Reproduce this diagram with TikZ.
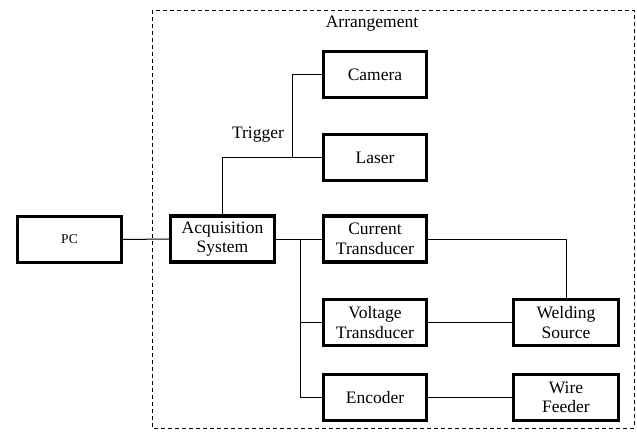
\documentclass[tikz,border=0pt]{standalone}
\usepackage{fontspec}
\setmainfont{Liberation Serif}
\begin{document}
\begin{tikzpicture}[x=1pt,y=-1pt,
  blk/.style={draw,line width=3.2pt,minimum height=46pt,inner sep=0pt,align=center,font=\fontsize{17.5}{19.5}\selectfont},
  conn/.style={line width=1pt},
  lbl/.style={font=\fontsize{17.5}{19.5}\selectfont,inner sep=0pt}]
\useasboundingbox (0,0) rectangle (637,437);
\draw[line width=1pt,dash pattern=on 4pt off 3pt] (152,10) rectangle (634,428);
\node[lbl] (arr) at (372,24) {Arrangement};
\node[blk,minimum width=104pt,font=\fontsize{13.5}{15}\selectfont] (pc) at (69.5,239.5) {PC};
\node[blk,minimum width=104pt] (acq) at (222.5,239) {Acquisition\\System};
\node[blk,minimum width=103pt] (cam) at (375,74.5) {Camera};
\node[blk,minimum width=103pt] (las) at (375,157.5) {Laser};
\node[blk,minimum width=103pt] (cur) at (375,239) {Current\\Transducer};
\node[blk,minimum width=103pt] (vol) at (375,322.5) {Voltage\\Transducer};
\node[blk,minimum width=103pt] (enc) at (375,397.5) {Encoder};
\node[blk,minimum width=105pt] (wel) at (566,322.5) {Welding\\Source};
\node[blk,minimum width=105pt] (wir) at (566,397.5) {Wire\\Feeder};
\node[lbl] (trig) at (258,135) {Trigger};
\coordinate (tj) at (292,157.5);
\coordinate (jn) at (300,239);
\draw[conn] (pc.east) -- (acq.west);
\draw[conn] (acq.north) |- (las.west);
\draw[conn] (tj) |- (cam.west);
\draw[conn] (acq.east) -- (cur.west);
\draw[conn] (jn) |- (enc.west);
\draw[conn] (jn |- vol.west) -- (vol.west);
\draw[conn] (cur.east) -| (wel.north);
\draw[conn] (vol.east) -- (wel.west);
\draw[conn] (enc.east) -- (wir.west);
\end{tikzpicture}
\end{document}
